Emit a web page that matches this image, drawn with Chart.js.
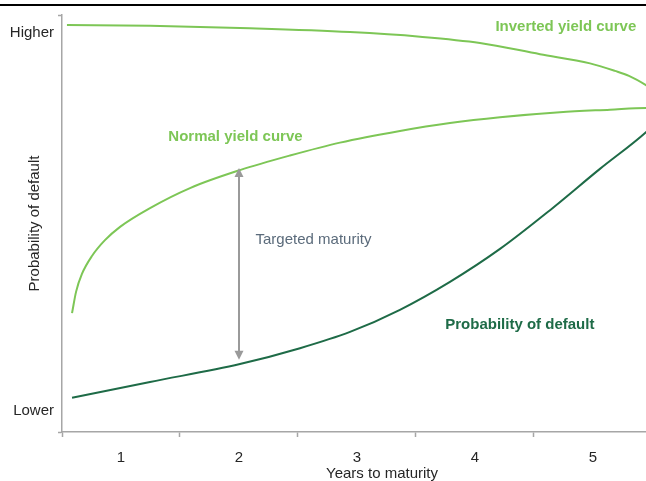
<!DOCTYPE html>
<html>
<head>
<meta charset="utf-8">
<script src="https://cdn.jsdelivr.net/npm/chart.js@4/dist/chart.umd.min.js"></script>
<style>
  html, body { margin: 0; padding: 0; background: #fff; overflow: hidden; width: 646px; height: 481px; }
  #topRule { position: absolute; left: 0; top: 4px; width: 646px; height: 2px; background: #000; }
  #chart { position: absolute; left: 0; top: 0; }
</style>
</head>
<body>
<div id="topRule"></div>
<canvas id="chart" width="702" height="481"></canvas>
<script>
// Curve readings (years to maturity / relative level 0-100)
const invertedYears = [0.542, 1.246, 2.093, 2.941, 3.534, 4.042, 4.551, 4.975, 5.186, 5.305, 5.449, 5.492];
const invertedLevel = [97.6, 97.4, 96.8, 95.9, 94.8, 93.3, 90.6, 88.4, 86.6, 85.4, 83.2, 82.4];

const normalYears = [0.585, 0.619, 0.669, 0.754, 0.864, 0.992, 1.246, 1.585, 2.008, 2.432, 2.856, 3.364, 3.788, 4.212, 4.72, 5.144, 5.449, 5.492];
const normalLevel = [28.5, 33.6, 37.9, 42.2, 46.0, 49.2, 53.7, 58.5, 62.8, 66.3, 69.4, 72.2, 74.1, 75.5, 76.7, 77.3, 77.7, 77.7];

const defaultYears = [0.585, 1.246, 2.008, 2.517, 2.941, 3.364, 3.788, 4.212, 4.636, 5.059, 5.449, 5.492];
const defaultLevel = [8.2, 12.0, 16.3, 20.1, 24.0, 29.3, 36.0, 43.9, 53.2, 63.1, 71.9, 73.1];

// axis ticks
const yearTicks = [0.5, 1, 1.5, 2, 2.5, 3, 3.5, 4, 4.5, 5, 5.5];
const levelTicks = [0, 5, 95.7, 100];
const levelLabels = ['', 'Lower', 'Higher', ''];

// targeted maturity arrow: [year, from level, to level]
const targetArrow = [2, 17.3, 63.3];

const LIGHT = '#7dc656';
const DARK = '#1e6b47';
const AXIS = '#a6a6a6';
const FONT = '"Liberation Sans", Arial, sans-serif';

const toPoints = (xs, ys) => xs.map((x, i) => ({ x: x, y: ys[i] }));

// draws the curve labels and the double headed arrow
const annotations = {
    id: 'annotations',
    afterDatasetsDraw(chart) {
        const ctx = chart.ctx;
        const sx = chart.scales.x, sy = chart.scales.y;
        ctx.save();

        // arrow
        const ax = sx.getPixelForValue(targetArrow[0]);
        const yBot = sy.getPixelForValue(targetArrow[1]);
        const yTop = sy.getPixelForValue(targetArrow[2]);
        ctx.strokeStyle = '#9a9a9a';
        ctx.fillStyle = '#9a9a9a';
        ctx.lineWidth = 2;
        ctx.beginPath();
        ctx.moveTo(ax, yTop + 6);
        ctx.lineTo(ax, yBot - 6);
        ctx.stroke();
        ctx.beginPath();
        ctx.moveTo(ax, yTop);
        ctx.lineTo(ax - 4.5, yTop + 9);
        ctx.lineTo(ax + 4.5, yTop + 9);
        ctx.closePath();
        ctx.fill();
        ctx.beginPath();
        ctx.moveTo(ax, yBot);
        ctx.lineTo(ax - 4.5, yBot - 9);
        ctx.lineTo(ax + 4.5, yBot - 9);
        ctx.closePath();
        ctx.fill();

        ctx.textBaseline = 'middle';
        ctx.font = 'bold 15px ' + FONT;
        ctx.textAlign = 'center';
        ctx.fillStyle = LIGHT;
        ctx.fillText('Inverted yield curve', sx.getPixelForValue(4.77), sy.getPixelForValue(97.1));
        ctx.fillText('Normal yield curve', sx.getPixelForValue(1.97), sy.getPixelForValue(70.7));
        ctx.fillStyle = DARK;
        ctx.fillText('Probability of default', sx.getPixelForValue(4.38), sy.getPixelForValue(25.8));

        ctx.font = '15px ' + FONT;
        ctx.textAlign = 'left';
        ctx.fillStyle = '#5b6b7b';
        ctx.fillText('Targeted maturity', sx.getPixelForValue(2.14), sy.getPixelForValue(46.0));
        ctx.restore();
    }
};

const lineStyle = (color) => ({
    borderColor: color,
    borderWidth: 2,
    pointRadius: 0,
    fill: false,
    cubicInterpolationMode: 'monotone'
});

new Chart(document.getElementById('chart'), {
    type: 'line',
    data: {
        datasets: [
            Object.assign({ label: 'Inverted yield curve', data: toPoints(invertedYears, invertedLevel) }, lineStyle(LIGHT)),
            Object.assign({ label: 'Normal yield curve', data: toPoints(normalYears, normalLevel) }, lineStyle(LIGHT)),
            Object.assign({ label: 'Probability of default', data: toPoints(defaultYears, defaultLevel) }, lineStyle(DARK))
        ]
    },
    options: {
        responsive: false,
        animation: false,
        layout: { padding: { top: 15, right: 0, left: 0, bottom: 0 } },
        plugins: { legend: { display: false }, tooltip: { enabled: false } },
        scales: {
            x: {
                type: 'linear',
                min: 0.5,
                max: 5.924,
                afterFit: (scale) => { scale.height = 49; },
                afterBuildTicks: (scale) => { scale.ticks = yearTicks.map(v => ({ value: v })); },
                ticks: {
                    autoSkip: false,
                    maxRotation: 0,
                    padding: 12,
                    color: '#262626',
                    font: { family: FONT, size: 15 },
                    callback: (v) => Number.isInteger(v) ? String(v) : ''
                },
                grid: {
                    drawOnChartArea: false,
                    tickLength: 5,
                    tickWidth: 1.5,
                    tickColor: (c) => (c.tick && Number.isInteger(c.tick.value)) ? 'rgba(0,0,0,0)' : AXIS
                },
                border: { color: AXIS, width: 1.5 },
                title: {
                    display: true,
                    text: 'Years to maturity',
                    color: '#262626',
                    font: { family: FONT, size: 15 },
                    padding: { top: 0, bottom: -2 }
                }
            },
            y: {
                type: 'linear',
                min: 0,
                max: 100,
                afterFit: (scale) => { scale.width = 62; },
                afterBuildTicks: (scale) => { scale.ticks = levelTicks.map(v => ({ value: v })); },
                ticks: {
                    autoSkip: false,
                    padding: 4,
                    color: '#262626',
                    font: { family: FONT, size: 15 },
                    callback: (v, i) => levelLabels[i]
                },
                grid: {
                    drawOnChartArea: false,
                    tickLength: 4,
                    tickWidth: 1.5,
                    tickColor: (c) => (c.tick && (c.tick.value === 0 || c.tick.value === 100)) ? AXIS : 'rgba(0,0,0,0)'
                },
                border: { color: AXIS, width: 1.5 },
                title: {
                    display: true,
                    text: 'Probability of default',
                    color: '#262626',
                    font: { family: FONT, size: 15 },
                    padding: { top: 26, bottom: 0 }
                }
            }
        }
    },
    plugins: [annotations]
});
</script>
</body>
</html>
